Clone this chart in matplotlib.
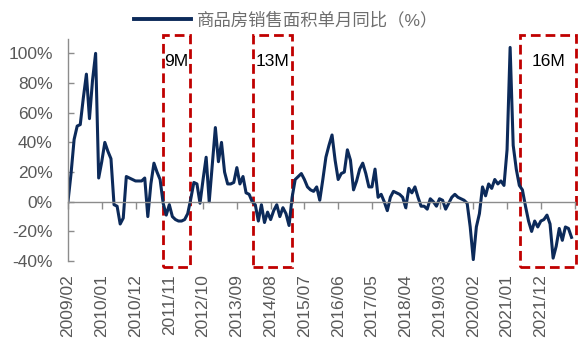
import matplotlib.pyplot as plt
from matplotlib.patches import Rectangle
import numpy as np

plt.rcParams['font.family'] = ['Liberation Sans', 'Noto Sans CJK SC']

# monthly YoY of commodity housing sales area (%), 2009/02 .. 2022/10
yoy = [0, 19, 42, 51, 52, 70, 86, 56, 82, 100,
       16, 27, 40, 34, 29, -2, -3, -15, -11, 17,
       16, 15, 14, 14, 14, 16, -10, 12, 26, 20,
       15, -1, -9, -2, -10, -12, -13, -13, -12, -8,
       2, 13, 12, -1, 15, 30, 0, 25, 50, 27,
       40, 20, 12, 12, 13, 23, 12, 17, 6, 5,
       0, -2, -13, -2, -14, -7, -12, -6, -2, -10,
       -4, -8, -16, 3, 15, 17, 19, 15, 10, 8,
       7, 10, 1, 15, 30, 38, 45, 28, 15, 19,
       20, 35, 28, 8, 14, 22, 26, 19, 10, 10,
       22, 3, 5, 0, -6, 3, 7, 6, 5, 3,
       -4, 9, 6, 10, 3, -3, -3, -5, 2, 0,
       -3, 2, 1, -5, -1, 3, 5, 3, 2, 1,
       -1, -17, -39, -17, -8, 10, 4, 12, 9, 15,
       12, 14, 11, 35, 104, 38, 22, 11, 8, -3,
       -13, -20, -13, -17, -13, -12, -9, -15, -38, -30,
       -18, -26, -17, -18, -24]

tick_labels = ['2009/02', '2010/01', '2010/12', '2011/11', '2012/10',
               '2013/09', '2014/08', '2015/07', '2016/06', '2017/05',
               '2018/04', '2019/03', '2020/02', '2021/01', '2021/12']

# downturn windows marked on the chart (month index from / to)
window_from = [30.8, 60.3, 147.1]
window_to = [39.6, 73.0, 165.6]
window_text = ['9M', '13M', '16M']

navy = '#0c2a5a'
grey = '#595959'
red = '#c00000'

fig = plt.figure(figsize=(5.81, 3.44), dpi=100)
ax = fig.add_axes([0.117, 0.241, 0.872, 0.647])

x = np.arange(len(yoy))
ax.plot(x, yoy, color=navy, lw=2.2, solid_joinstyle='round',
        label='商品房销售面积单月同比（%）')

ax.set_xlim(0, 165)
ax.set_ylim(-40, 110)

for s in ['top', 'right']:
    ax.spines[s].set_visible(False)
ax.spines['bottom'].set_position(('data', 0))
for s in ['bottom', 'left']:
    ax.spines[s].set_color('#8c8c8c')
    ax.spines[s].set_linewidth(1.0)

ax.set_yticks(range(-40, 101, 20))
ax.set_yticklabels([f'{v}%' for v in range(-40, 101, 20)])
ax.set_xticks(list(range(0, 166, 11)))
ax.set_xticklabels(tick_labels + [''], rotation=90)

ax.tick_params(axis='y', direction='in', length=4, width=1.0,
               color='#8c8c8c', pad=11, labelsize=12.5, labelcolor=grey)
ax.tick_params(axis='x', direction='out', length=5, width=1.0,
               color='#8c8c8c', pad=47, labelsize=12.5, labelcolor=grey)

# dashed red boxes around the downturn windows
for a, b, t in zip(window_from, window_to, window_text):
    ax.add_patch(Rectangle((a, -44.2), b - a, 156.7, fill=False, ec=red,
                           lw=2.0, ls=(0, (3.5, 1.8)), clip_on=False))
    ax.text((a + b) / 2, 94.8, t, ha='center', va='center',
            fontsize=12.5, color='black')

leg = ax.legend(loc='center left', bbox_to_anchor=(134 / 581, 1 - 20 / 344),
                bbox_transform=fig.transFigure, frameon=False, borderpad=0,
                borderaxespad=0, handlelength=3.3, handletextpad=0.3,
                fontsize=12.5, labelcolor='#6e6e6e')
leg.get_lines()[0].set_linewidth(2.8)

fig.savefig('out.png', dpi=100)
